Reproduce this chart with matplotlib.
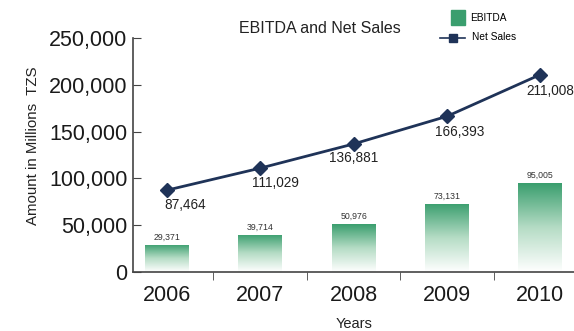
import numpy as np
import matplotlib
matplotlib.use("Agg")
import matplotlib.pyplot as plt
from matplotlib.ticker import FuncFormatter, FixedLocator
from matplotlib.colors import LinearSegmentedColormap
from matplotlib.lines import Line2D
from matplotlib.patches import Rectangle

# ==============================
# Data
# ==============================

years = ["2006", "2007", "2008", "2009", "2010"]
ebitda = [29371, 39714, 50976, 73131, 95005]
net_sales = [87464, 111029, 136881, 166393, 211008]

# label offsets (points) for net sales annotations
sales_offsets = [(13, -11), (11, -11), (0, -10), (9, -11), (7, -12)]

# ==============================
# Figure
# ==============================

plt.rcParams["font.family"] = ["Liberation Sans", "DejaVu Sans"]

fig = plt.figure(figsize=(5.74, 3.31), dpi=100)
ax = fig.add_axes([0.232, 0.178, 0.768, 0.707])

x = np.arange(len(years))
green = "#3a9e6e"
navy = "#1f3358"

bars = ax.bar(x, ebitda, width=0.47, color="none", edgecolor="none", zorder=2)

cmap = LinearSegmentedColormap.from_list("fade", ["#ffffff", "#b5dcc5", green])
grad = np.linspace(0, 1, 256).reshape(-1, 1)
for b in bars:
    x0, y0 = b.get_x(), b.get_y()
    w, h = b.get_width(), b.get_height()
    im = ax.imshow(grad, extent=[x0, x0 + w, y0, y0 + h], origin="lower",
                   cmap=cmap, aspect="auto", zorder=2)
    im.set_clip_path(b)

for xi, v in zip(x, ebitda):
    ax.text(xi, v + 3500, f"{v:,}", ha="center", va="bottom",
            fontsize=6.3, color="#333333")

ax.plot(x, net_sales, color=navy, lw=2, marker="D", markersize=7,
        zorder=3)

for xi, v, off in zip(x, net_sales, sales_offsets):
    ax.annotate(f"{v:,}", (xi, v), xytext=off, textcoords="offset points",
                ha="center", va="center", fontsize=9.8, color="#222222")

ax.set_xlim(-0.36, 4.36)
ax.set_ylim(0, 250000)
ax.set_yticks(range(0, 250001, 50000))
ax.yaxis.set_major_formatter(FuncFormatter(lambda v, p: f"{int(v):,}"))
ax.set_xticks(x)
ax.set_xticklabels(years)
ax.xaxis.set_minor_locator(FixedLocator(x[:-1] + 0.5))

ax.tick_params(axis="y", direction="in", length=6, labelsize=15.5,
               color="#444444", pad=4, labelcolor="#1a1a1a")
ax.tick_params(axis="x", which="major", length=0, labelsize=15.5, pad=9,
               labelcolor="#1a1a1a")
ax.tick_params(axis="x", which="minor", direction="out", length=6,
               color="#444444")

for s in ["top", "right"]:
    ax.spines[s].set_visible(False)
for s in ["left", "bottom"]:
    ax.spines[s].set_color("#444444")
    ax.spines[s].set_linewidth(1.2)

ax.set_ylabel("Amount in Millions  TZS", fontsize=10.8, color="#222222")
ax.yaxis.set_label_coords(-0.212, 0.54)
ax.set_xlabel("Years", fontsize=10.5, labelpad=8, color="#222222")

fig.text(0.557, 0.915, "EBITDA and Net Sales", ha="center", va="center",
         fontsize=11.5, color="#222222")

# legend drawn by hand in figure coords
fig.patches.append(Rectangle((0.786, 0.924), 0.0244, 0.045, color=green,
                             transform=fig.transFigure, figure=fig))
fig.text(0.819, 0.947, "EBITDA", ha="left", va="center", fontsize=7.3)
fig.lines.append(Line2D([0.767, 0.81], [0.885, 0.885], color=navy, lw=1.2,
                        transform=fig.transFigure, figure=fig))
fig.lines.append(Line2D([0.7885], [0.885], color=navy, marker="s",
                        markersize=6, transform=fig.transFigure, figure=fig))
fig.text(0.822, 0.887, "Net Sales", ha="left", va="center", fontsize=7.3)

fig.savefig("out.png", dpi=100)
